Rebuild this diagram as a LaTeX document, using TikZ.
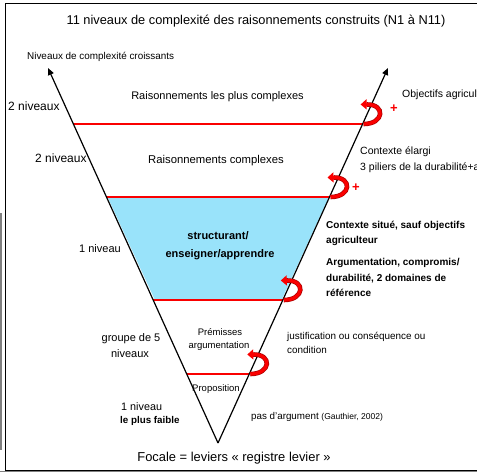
\documentclass[tikz,border=0pt]{standalone}
\usepackage{fontspec}
\setmainfont{Liberation Sans}
\usetikzlibrary{arrows.meta}
\definecolor{lblue}{RGB}{153,227,250}
\definecolor{rred}{RGB}{250,0,0}
\definecolor{dred}{RGB}{170,0,0}
\begin{document}
\begin{tikzpicture}[x=1pt,y=-1pt,
  axis/.style={line width=1.2pt,-{Triangle[length=7pt,width=6pt]}},
  level/.style={rred,line width=2.4pt},
  lbl/.style={inner sep=0pt,anchor=base west,font=\fontsize{10.5}{12}\selectfont},
  clbl/.style={inner sep=0pt,anchor=base,font=\fontsize{11}{13}\selectfont},
  blbl/.style={inner sep=0pt,anchor=base west,font=\fontsize{10}{12}\selectfont\bfseries},
  plus/.style={inner sep=0pt,text=rred,font=\fontsize{13}{13}\selectfont\bfseries},
  curlarrow/.pic={
    \draw[dred,line width=4.6pt] (1,0) .. controls (22,0) and (23,-20) .. (4,-19.5);
    \draw[rred,line width=3.2pt,-{Triangle[length=6pt,width=10pt]}] (1,0) .. controls (22,0) and (23,-20) .. (-2,-19.5);
  }]
\clip (0,0) rectangle (477,472);
\fill[white] (0,0) rectangle (477,472);
% frame
\draw[line width=1pt] (477,3) -- (5.5,3) -- (5.5,470) -- (477,470);
\draw[gray,line width=0.8pt] (0,471.6) -- (477,471.6);
\fill[gray] (0,213) rectangle (1.6,450);
% key points
\coordinate (V) at (218,443);
\coordinate (TL) at (48,68);
\coordinate (TR) at (388,68);
\coordinate (A1) at (73.4,124);  \coordinate (B1) at (362.6,124);
\coordinate (A2) at (106.5,197); \coordinate (B2) at (329.5,197);
\coordinate (A3) at (153.2,300); \coordinate (B3) at (282.8,300);
\coordinate (A4) at (186.7,374); \coordinate (B4) at (249.3,374);
% blue band
\fill[lblue] (108,198) -- (328.5,198) -- (282,299) -- (154.5,299) -- cycle;
% red levels
\draw[level] (A1) -- (B1);
\draw[level] (A2) -- (B2);
\draw[level] (A3) -- (B3);
\draw[level] (A4) -- (B4);
% axes
\draw[axis] (V) -- (TL);
\draw[axis] (V) -- (TR);
% curl arrows
\pic at (B1) {curlarrow};
\pic at (B2) {curlarrow};
\pic at (B3) {curlarrow};
\pic at (B4) {curlarrow};
\node[plus] (p1) at (394,109) {+};
\node[plus] (p2) at (356,188) {+};
% texts
\node[clbl,font=\fontsize{12.8}{14}\selectfont] (title) at (256,24) {11 niveaux de complexité des raisonnements construits (N1 à N11)};
\node[lbl,font=\fontsize{9.9}{11}\selectfont] (nc) at (27,59) {Niveaux de complexité croissants};
\node[lbl,font=\fontsize{12}{13}\selectfont] (n2a) at (8,110) {2 niveaux};
\node[clbl,font=\fontsize{11}{13}\selectfont] (r1) at (217.5,99) {Raisonnements les plus complexes};
\node[lbl] (obj) at (402,97) {Objectifs agriculteur};
\node[lbl,font=\fontsize{12}{13}\selectfont] (n2b) at (35,162) {2 niveaux};
\node[clbl,font=\fontsize{11.3}{13}\selectfont] (r2) at (216,163) {Raisonnements complexes};
\node[lbl] (ce1) at (360,154) {Contexte élargi};
\node[lbl] (ce2) at (360,170) {3 piliers de la durabilité+agriculteur};
\node[lbl,font=\fontsize{11}{13}\selectfont] (n1a) at (79,252) {1 niveau};
\node[clbl,font=\fontsize{11}{13}\selectfont\bfseries] (s1) at (218,239) {structurant/};
\node[clbl,font=\fontsize{11}{13}\selectfont\bfseries] (s2) at (220,257) {enseigner/apprendre};
\node[blbl] (cs1) at (326,228) {Contexte situé, sauf objectifs};
\node[blbl] (cs2) at (326,243) {agriculteur};
\node[blbl] (ar1) at (326,265) {Argumentation, compromis/};
\node[blbl] (ar2) at (326,281) {durabilité, 2 domaines de};
\node[blbl] (ar3) at (326,296) {référence};
\node[clbl,font=\fontsize{9.5}{11}\selectfont] (pr1) at (220,335) {Prémisses};
\node[clbl,font=\fontsize{9.5}{11}\selectfont] (pr2) at (219,348) {argumentation};
\node[clbl] (g1) at (131,341) {groupe de 5};
\node[clbl] (g2) at (130,357) {niveaux};
\node[lbl,font=\fontsize{9.9}{11}\selectfont] (j1) at (287,339) {justification ou conséquence ou};
\node[lbl,font=\fontsize{9.9}{11}\selectfont] (j2) at (287,353) {condition};
\node[clbl,font=\fontsize{9.5}{11}\selectfont] (prop) at (216,391) {Proposition};
\node[lbl,font=\fontsize{10.8}{12}\selectfont] (n1b) at (121,410) {1 niveau};
\node[blbl,font=\fontsize{9.8}{11}\selectfont\bfseries] (lpf) at (120,423) {le plus faible};
\node[lbl,font=\fontsize{9.8}{11}\selectfont] (pa) at (251,419) {pas d'argument {\fontsize{8.5}{9}\selectfont(Gauthier, 2002)}};
\node[clbl,font=\fontsize{12.9}{14}\selectfont] (foc) at (234,461) {Focale = leviers « registre levier »};
\end{tikzpicture}
\end{document}
